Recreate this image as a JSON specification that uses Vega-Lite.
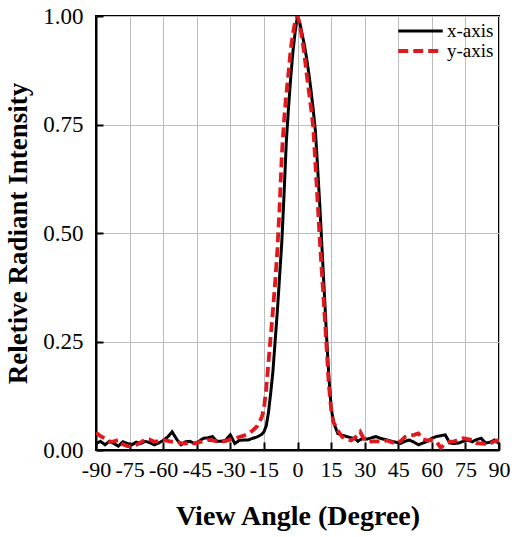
{
  "$schema": "https://vega.github.io/schema/vega-lite/v6.json",
  "width": 403,
  "height": 434,
  "autosize": {"type": "none"},
  "padding": {"left": 96, "top": 16, "right": 16, "bottom": 87},
  "background": "white",
  "config": {
    "view": {"stroke": "#000000", "strokeWidth": 2},
    "font": "Liberation Serif",
    "axis": {
      "labelFont": "Liberation Serif",
      "labelColor": "#000000",
      "titleFont": "Liberation Serif",
      "titleColor": "#000000",
      "titleFontWeight": "bold",
      "domainColor": "#000000",
      "domainWidth": 2,
      "tickColor": "#000000",
      "tickWidth": 2,
      "gridColor": "#bdbdbd",
      "gridWidth": 1
    }
  },
  "data": {
    "values": [
      {"angle": -90, "v": 0.015, "s": "x-axis"},
      {"angle": -88, "v": 0.02, "s": "x-axis"},
      {"angle": -86, "v": 0.012, "s": "x-axis"},
      {"angle": -84, "v": 0.02, "s": "x-axis"},
      {"angle": -82, "v": 0.015, "s": "x-axis"},
      {"angle": -80, "v": 0.009, "s": "x-axis"},
      {"angle": -78, "v": 0.019, "s": "x-axis"},
      {"angle": -76, "v": 0.015, "s": "x-axis"},
      {"angle": -74, "v": 0.012, "s": "x-axis"},
      {"angle": -72, "v": 0.018, "s": "x-axis"},
      {"angle": -70, "v": 0.015, "s": "x-axis"},
      {"angle": -68, "v": 0.02, "s": "x-axis"},
      {"angle": -66, "v": 0.017, "s": "x-axis"},
      {"angle": -64, "v": 0.012, "s": "x-axis"},
      {"angle": -62, "v": 0.016, "s": "x-axis"},
      {"angle": -60, "v": 0.022, "s": "x-axis"},
      {"angle": -58, "v": 0.03, "s": "x-axis"},
      {"angle": -56, "v": 0.042, "s": "x-axis"},
      {"angle": -54, "v": 0.025, "s": "x-axis"},
      {"angle": -52, "v": 0.012, "s": "x-axis"},
      {"angle": -50, "v": 0.019, "s": "x-axis"},
      {"angle": -48, "v": 0.02, "s": "x-axis"},
      {"angle": -46, "v": 0.015, "s": "x-axis"},
      {"angle": -44, "v": 0.02, "s": "x-axis"},
      {"angle": -42, "v": 0.027, "s": "x-axis"},
      {"angle": -40, "v": 0.028, "s": "x-axis"},
      {"angle": -38, "v": 0.031, "s": "x-axis"},
      {"angle": -36, "v": 0.02, "s": "x-axis"},
      {"angle": -34, "v": 0.02, "s": "x-axis"},
      {"angle": -32, "v": 0.023, "s": "x-axis"},
      {"angle": -30, "v": 0.035, "s": "x-axis"},
      {"angle": -28, "v": 0.015, "s": "x-axis"},
      {"angle": -26, "v": 0.022, "s": "x-axis"},
      {"angle": -24, "v": 0.023, "s": "x-axis"},
      {"angle": -22, "v": 0.023, "s": "x-axis"},
      {"angle": -20, "v": 0.027, "s": "x-axis"},
      {"angle": -18, "v": 0.03, "s": "x-axis"},
      {"angle": -16, "v": 0.036, "s": "x-axis"},
      {"angle": -15, "v": 0.042, "s": "x-axis"},
      {"angle": -14, "v": 0.055, "s": "x-axis"},
      {"angle": -13, "v": 0.085, "s": "x-axis"},
      {"angle": -12, "v": 0.13, "s": "x-axis"},
      {"angle": -11, "v": 0.18, "s": "x-axis"},
      {"angle": -10, "v": 0.25, "s": "x-axis"},
      {"angle": -9, "v": 0.32, "s": "x-axis"},
      {"angle": -8, "v": 0.4, "s": "x-axis"},
      {"angle": -7, "v": 0.48, "s": "x-axis"},
      {"angle": -6, "v": 0.59, "s": "x-axis"},
      {"angle": -5, "v": 0.71, "s": "x-axis"},
      {"angle": -4, "v": 0.79, "s": "x-axis"},
      {"angle": -3, "v": 0.86, "s": "x-axis"},
      {"angle": -2, "v": 0.92, "s": "x-axis"},
      {"angle": -1, "v": 0.965, "s": "x-axis"},
      {"angle": 0, "v": 1.0, "s": "x-axis"},
      {"angle": 1, "v": 0.985, "s": "x-axis"},
      {"angle": 2, "v": 0.96, "s": "x-axis"},
      {"angle": 3, "v": 0.935, "s": "x-axis"},
      {"angle": 4, "v": 0.905, "s": "x-axis"},
      {"angle": 5, "v": 0.87, "s": "x-axis"},
      {"angle": 6, "v": 0.83, "s": "x-axis"},
      {"angle": 7, "v": 0.785, "s": "x-axis"},
      {"angle": 8, "v": 0.735, "s": "x-axis"},
      {"angle": 9, "v": 0.65, "s": "x-axis"},
      {"angle": 10, "v": 0.56, "s": "x-axis"},
      {"angle": 11, "v": 0.46, "s": "x-axis"},
      {"angle": 12, "v": 0.36, "s": "x-axis"},
      {"angle": 13, "v": 0.26, "s": "x-axis"},
      {"angle": 14, "v": 0.17, "s": "x-axis"},
      {"angle": 15, "v": 0.1, "s": "x-axis"},
      {"angle": 16, "v": 0.065, "s": "x-axis"},
      {"angle": 18, "v": 0.038, "s": "x-axis"},
      {"angle": 20, "v": 0.034, "s": "x-axis"},
      {"angle": 22, "v": 0.031, "s": "x-axis"},
      {"angle": 24, "v": 0.028, "s": "x-axis"},
      {"angle": 26, "v": 0.025, "s": "x-axis"},
      {"angle": 27, "v": 0.02, "s": "x-axis"},
      {"angle": 29, "v": 0.027, "s": "x-axis"},
      {"angle": 31, "v": 0.025, "s": "x-axis"},
      {"angle": 33, "v": 0.028, "s": "x-axis"},
      {"angle": 35, "v": 0.031, "s": "x-axis"},
      {"angle": 37, "v": 0.027, "s": "x-axis"},
      {"angle": 40, "v": 0.023, "s": "x-axis"},
      {"angle": 42, "v": 0.02, "s": "x-axis"},
      {"angle": 44, "v": 0.018, "s": "x-axis"},
      {"angle": 46, "v": 0.015, "s": "x-axis"},
      {"angle": 48, "v": 0.02, "s": "x-axis"},
      {"angle": 50, "v": 0.023, "s": "x-axis"},
      {"angle": 52, "v": 0.018, "s": "x-axis"},
      {"angle": 54, "v": 0.012, "s": "x-axis"},
      {"angle": 56, "v": 0.016, "s": "x-axis"},
      {"angle": 58, "v": 0.02, "s": "x-axis"},
      {"angle": 60, "v": 0.027, "s": "x-axis"},
      {"angle": 62, "v": 0.031, "s": "x-axis"},
      {"angle": 64, "v": 0.033, "s": "x-axis"},
      {"angle": 66, "v": 0.035, "s": "x-axis"},
      {"angle": 68, "v": 0.016, "s": "x-axis"},
      {"angle": 70, "v": 0.015, "s": "x-axis"},
      {"angle": 72, "v": 0.016, "s": "x-axis"},
      {"angle": 74, "v": 0.02, "s": "x-axis"},
      {"angle": 76, "v": 0.023, "s": "x-axis"},
      {"angle": 78, "v": 0.019, "s": "x-axis"},
      {"angle": 80, "v": 0.024, "s": "x-axis"},
      {"angle": 82, "v": 0.027, "s": "x-axis"},
      {"angle": 84, "v": 0.016, "s": "x-axis"},
      {"angle": 86, "v": 0.018, "s": "x-axis"},
      {"angle": 88, "v": 0.023, "s": "x-axis"},
      {"angle": 90, "v": 0.015, "s": "x-axis"},
      {"angle": -90, "v": 0.04, "s": "y-axis"},
      {"angle": -88, "v": 0.032, "s": "y-axis"},
      {"angle": -86, "v": 0.027, "s": "y-axis"},
      {"angle": -84, "v": 0.019, "s": "y-axis"},
      {"angle": -82, "v": 0.02, "s": "y-axis"},
      {"angle": -80, "v": 0.023, "s": "y-axis"},
      {"angle": -78, "v": 0.013, "s": "y-axis"},
      {"angle": -76, "v": 0.009, "s": "y-axis"},
      {"angle": -74, "v": 0.008, "s": "y-axis"},
      {"angle": -72, "v": 0.012, "s": "y-axis"},
      {"angle": -70, "v": 0.017, "s": "y-axis"},
      {"angle": -68, "v": 0.025, "s": "y-axis"},
      {"angle": -66, "v": 0.024, "s": "y-axis"},
      {"angle": -64, "v": 0.019, "s": "y-axis"},
      {"angle": -62, "v": 0.02, "s": "y-axis"},
      {"angle": -60, "v": 0.023, "s": "y-axis"},
      {"angle": -58, "v": 0.021, "s": "y-axis"},
      {"angle": -56, "v": 0.019, "s": "y-axis"},
      {"angle": -54, "v": 0.018, "s": "y-axis"},
      {"angle": -52, "v": 0.016, "s": "y-axis"},
      {"angle": -50, "v": 0.015, "s": "y-axis"},
      {"angle": -48, "v": 0.017, "s": "y-axis"},
      {"angle": -46, "v": 0.015, "s": "y-axis"},
      {"angle": -44, "v": 0.018, "s": "y-axis"},
      {"angle": -42, "v": 0.02, "s": "y-axis"},
      {"angle": -40, "v": 0.023, "s": "y-axis"},
      {"angle": -38, "v": 0.022, "s": "y-axis"},
      {"angle": -36, "v": 0.02, "s": "y-axis"},
      {"angle": -34, "v": 0.019, "s": "y-axis"},
      {"angle": -32, "v": 0.021, "s": "y-axis"},
      {"angle": -30, "v": 0.024, "s": "y-axis"},
      {"angle": -28, "v": 0.027, "s": "y-axis"},
      {"angle": -26, "v": 0.03, "s": "y-axis"},
      {"angle": -24, "v": 0.033, "s": "y-axis"},
      {"angle": -22, "v": 0.038, "s": "y-axis"},
      {"angle": -20, "v": 0.045, "s": "y-axis"},
      {"angle": -18, "v": 0.055, "s": "y-axis"},
      {"angle": -16, "v": 0.075, "s": "y-axis"},
      {"angle": -15, "v": 0.095, "s": "y-axis"},
      {"angle": -14, "v": 0.14, "s": "y-axis"},
      {"angle": -13, "v": 0.2, "s": "y-axis"},
      {"angle": -12, "v": 0.26, "s": "y-axis"},
      {"angle": -11, "v": 0.32, "s": "y-axis"},
      {"angle": -10, "v": 0.385, "s": "y-axis"},
      {"angle": -9, "v": 0.46, "s": "y-axis"},
      {"angle": -8, "v": 0.56, "s": "y-axis"},
      {"angle": -7, "v": 0.68, "s": "y-axis"},
      {"angle": -6, "v": 0.76, "s": "y-axis"},
      {"angle": -5, "v": 0.82, "s": "y-axis"},
      {"angle": -4, "v": 0.87, "s": "y-axis"},
      {"angle": -3, "v": 0.925, "s": "y-axis"},
      {"angle": -2, "v": 0.96, "s": "y-axis"},
      {"angle": -1, "v": 0.99, "s": "y-axis"},
      {"angle": 0, "v": 1.0, "s": "y-axis"},
      {"angle": 1, "v": 0.98, "s": "y-axis"},
      {"angle": 2, "v": 0.95, "s": "y-axis"},
      {"angle": 3, "v": 0.915, "s": "y-axis"},
      {"angle": 4, "v": 0.87, "s": "y-axis"},
      {"angle": 5, "v": 0.83, "s": "y-axis"},
      {"angle": 6, "v": 0.79, "s": "y-axis"},
      {"angle": 7, "v": 0.745, "s": "y-axis"},
      {"angle": 8, "v": 0.66, "s": "y-axis"},
      {"angle": 9, "v": 0.57, "s": "y-axis"},
      {"angle": 10, "v": 0.48, "s": "y-axis"},
      {"angle": 11, "v": 0.4, "s": "y-axis"},
      {"angle": 12, "v": 0.32, "s": "y-axis"},
      {"angle": 13, "v": 0.235, "s": "y-axis"},
      {"angle": 14, "v": 0.15, "s": "y-axis"},
      {"angle": 15, "v": 0.095, "s": "y-axis"},
      {"angle": 16, "v": 0.065, "s": "y-axis"},
      {"angle": 18, "v": 0.045, "s": "y-axis"},
      {"angle": 20, "v": 0.03, "s": "y-axis"},
      {"angle": 22, "v": 0.025, "s": "y-axis"},
      {"angle": 24, "v": 0.022, "s": "y-axis"},
      {"angle": 26, "v": 0.03, "s": "y-axis"},
      {"angle": 28, "v": 0.042, "s": "y-axis"},
      {"angle": 30, "v": 0.022, "s": "y-axis"},
      {"angle": 32, "v": 0.019, "s": "y-axis"},
      {"angle": 34, "v": 0.02, "s": "y-axis"},
      {"angle": 36, "v": 0.02, "s": "y-axis"},
      {"angle": 38, "v": 0.019, "s": "y-axis"},
      {"angle": 40, "v": 0.022, "s": "y-axis"},
      {"angle": 42, "v": 0.018, "s": "y-axis"},
      {"angle": 44, "v": 0.015, "s": "y-axis"},
      {"angle": 46, "v": 0.02, "s": "y-axis"},
      {"angle": 48, "v": 0.03, "s": "y-axis"},
      {"angle": 50, "v": 0.033, "s": "y-axis"},
      {"angle": 52, "v": 0.035, "s": "y-axis"},
      {"angle": 54, "v": 0.038, "s": "y-axis"},
      {"angle": 56, "v": 0.025, "s": "y-axis"},
      {"angle": 58, "v": 0.022, "s": "y-axis"},
      {"angle": 60, "v": 0.023, "s": "y-axis"},
      {"angle": 62, "v": 0.02, "s": "y-axis"},
      {"angle": 64, "v": 0.005, "s": "y-axis"},
      {"angle": 66, "v": 0.015, "s": "y-axis"},
      {"angle": 68, "v": 0.019, "s": "y-axis"},
      {"angle": 70, "v": 0.02, "s": "y-axis"},
      {"angle": 72, "v": 0.024, "s": "y-axis"},
      {"angle": 74, "v": 0.027, "s": "y-axis"},
      {"angle": 76, "v": 0.025, "s": "y-axis"},
      {"angle": 78, "v": 0.023, "s": "y-axis"},
      {"angle": 80, "v": 0.016, "s": "y-axis"},
      {"angle": 82, "v": 0.015, "s": "y-axis"},
      {"angle": 84, "v": 0.014, "s": "y-axis"},
      {"angle": 86, "v": 0.015, "s": "y-axis"},
      {"angle": 88, "v": 0.02, "s": "y-axis"},
      {"angle": 90, "v": 0.023, "s": "y-axis"}
    ]
  },
  "mark": {"type": "line", "clip": true},
  "encoding": {
    "x": {
      "field": "angle",
      "type": "quantitative",
      "scale": {"domain": [-90, 90], "nice": false, "zero": false},
      "axis": {
        "title": "View Angle (Degree)",
        "values": [-90, -75, -60, -45, -30, -15, 0, 15, 30, 45, 60, 75, 90],
        "labelExpr": "'' + datum.value",
        "labelFontSize": 22,
        "titleFontSize": 28,
        "tickSize": -8,
        "labelPadding": 17,
        "titlePadding": 22,
        "labelFlush": false,
        "labelOverlap": false
      }
    },
    "y": {
      "field": "v",
      "type": "quantitative",
      "scale": {"domain": [0, 1], "nice": false},
      "axis": {
        "title": "Reletive Radiant Intensity",
        "values": [0, 0.25, 0.5, 0.75, 1],
        "format": ".2f",
        "labelFontSize": 23,
        "titleFontSize": 27,
        "tickSize": -7,
        "labelPadding": 20,
        "titlePadding": 10,
        "labelFlush": false,
        "labelOverlap": false
      }
    },
    "strokeWidth": {
      "field": "s",
      "type": "nominal",
      "scale": {"domain": ["x-axis", "y-axis"], "range": [3, 3.8]},
      "legend": null
    },
    "color": {
      "field": "s",
      "type": "nominal",
      "scale": {"domain": ["x-axis", "y-axis"], "range": ["#000000", "#e0191f"]},
      "legend": {
        "title": null,
        "orient": "top-right",
        "offset": 5,
        "padding": 0,
        "labelFont": "Liberation Serif",
        "labelFontSize": 19,
        "labelColor": "#000000",
        "labelOffset": 2,
        "symbolType": "stroke",
        "symbolSize": 1980,
        "symbolStrokeWidth": 3.8,
        "clipHeight": 20,
        "rowPadding": 0
      }
    },
    "strokeDash": {
      "field": "s",
      "type": "nominal",
      "scale": {"domain": ["x-axis", "y-axis"], "range": [[1, 0], [10, 5]]},
      "legend": {
        "title": null,
        "orient": "top-right",
        "offset": 5,
        "padding": 0,
        "labelFont": "Liberation Serif",
        "labelFontSize": 19,
        "labelColor": "#000000",
        "labelOffset": 2,
        "symbolType": "stroke",
        "symbolSize": 1980,
        "symbolStrokeWidth": 3.8,
        "clipHeight": 20,
        "rowPadding": 0
      }
    }
  }
}
